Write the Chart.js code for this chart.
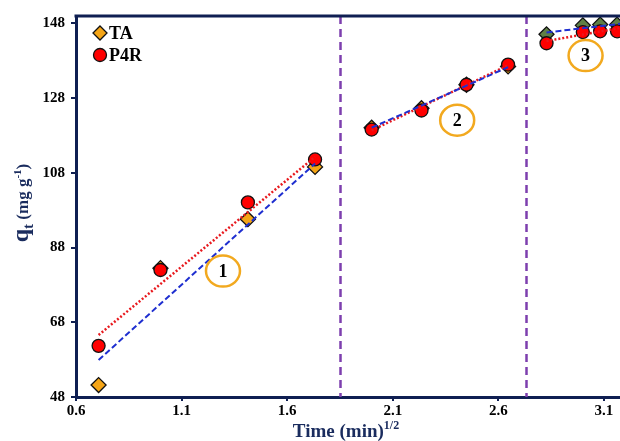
<!DOCTYPE html>
<html>
<head>
<meta charset="utf-8">
<script src="https://cdn.jsdelivr.net/npm/chart.js@4.4.1/dist/chart.umd.min.js"></script>
<style>
  html, body { margin: 0; padding: 0; background: #fff; }
  #wrap { width: 620px; height: 441px; }
</style>
</head>
<body>
<div id="wrap"><canvas id="kineticsChart" width="620" height="441"></canvas></div>
<script>
// square root of contact time, min^1/2
var timeRoot = [0.707, 1.0, 1.414, 1.732, 2.0, 2.236, 2.449, 2.646, 2.828, 3.0, 3.082, 3.162];
var qtTA = [51.2, 82.5, 95.6, 109.6, 120.1, 125.3, 131.6, 136.5, 145.1, 147.5, 147.7, 147.7];
var qtP4R = [61.7, 82.0, 100.1, 111.6, 119.6, 124.7, 131.6, 137.0, 142.7, 145.7, 145.9, 145.9];

// fitted lines per stage: start/end x and y
var stageX = [[0.707, 1.732], [2.0, 2.646], [2.828, 3.176]];
var fitTA = [[57.9, 110.5], [120.1, 136.3], [145.6, 147.9]];
var fitP4R = [[64.6, 112.3], [119.4, 136.8], [143.3, 146.8]];

var stageBreaks = [1.851, 2.733];
var stageLabels = ['1', '2', '3'];
var stageLabelX = [1.296, 2.405, 3.013];
var stageLabelY = [81.7, 122.1, 139.4];

var xTicks = [0.6, 1.1, 1.6, 2.1, 2.6, 3.1];
var yTicks = [48, 68, 88, 108, 128, 148];

var navy = '#0f1f52';
var titleNavy = '#1a2c5e';
var serif = '"Liberation Serif", "Times New Roman", serif';
var orange = '#f5a516';
var olive = '#5f7f45';
var purple = '#7d3fae';
var ringColor = '#f2a91f';

function toPoints(xs, ys) {
    return xs.map(function (x, i) { return { x: x, y: ys[i] }; });
}

var datasets = [];

// fitted lines, drawn above the markers
stageX.forEach(function (xs, i) {
    datasets.push({
        label: 'TA fit ' + (i + 1),
        data: toPoints(xs, fitTA[i]),
        showLine: true,
        borderColor: '#1f2fd0',
        borderWidth: 2,
        borderDash: [6, 3],
        pointRadius: 0,
        order: 0
    });
    datasets.push({
        label: 'P4R fit ' + (i + 1),
        data: toPoints(xs, fitP4R[i]),
        showLine: true,
        borderColor: '#e8191e',
        borderWidth: 2.5,
        borderDash: [2, 2],
        pointRadius: 0,
        order: 0
    });
});

datasets.push({
    label: 'P4R',
    data: toPoints(timeRoot, qtP4R),
    pointStyle: 'circle',
    pointRadius: 6.5,
    backgroundColor: '#ff0000',
    borderColor: '#111',
    borderWidth: 1.3,
    order: 1
});

datasets.push({
    label: 'TA',
    data: toPoints(timeRoot, qtTA),
    pointStyle: 'rectRot',
    pointRadius: 7.5,
    backgroundColor: timeRoot.map(function (x) { return x > stageBreaks[1] ? olive : orange; }),
    borderColor: '#111',
    borderWidth: 1.3,
    order: 2
});

// stage dividers, ringed numbers, top frame, legend and axis titles
var decorations = {
    id: 'decorations',
    beforeDatasetsDraw: function (chart) {
        var ctx = chart.ctx, area = chart.chartArea, xs = chart.scales.x;
        ctx.save();
        ctx.strokeStyle = purple;
        ctx.lineWidth = 2.5;
        ctx.setLineDash([8, 5]);
        stageBreaks.forEach(function (v) {
            var px = Math.round(xs.getPixelForValue(v)) + 0.5;
            ctx.beginPath();
            ctx.moveTo(px, area.top);
            ctx.lineTo(px, area.bottom);
            ctx.stroke();
        });
        ctx.restore();
    },
    afterDatasetsDraw: function (chart) {
        var ctx = chart.ctx, area = chart.chartArea;
        var xs = chart.scales.x, ys = chart.scales.y;
        ctx.save();
        stageLabels.forEach(function (t, i) {
            var px = xs.getPixelForValue(stageLabelX[i]);
            var py = ys.getPixelForValue(stageLabelY[i]);
            ctx.beginPath();
            ctx.ellipse(px, py, 17, 15.5, 0, 0, Math.PI * 2);
            ctx.strokeStyle = ringColor;
            ctx.lineWidth = 2.5;
            ctx.stroke();
            ctx.fillStyle = '#000';
            ctx.font = 'bold 18px ' + serif;
            ctx.textAlign = 'center';
            ctx.textBaseline = 'middle';
            ctx.fillText(t, px, py + 1);
        });

        // top frame line
        ctx.strokeStyle = navy;
        ctx.lineWidth = 3;
        ctx.beginPath();
        ctx.moveTo(area.left - 1.5, area.top);
        ctx.lineTo(area.right, area.top);
        ctx.stroke();
        ctx.restore();
    },
    afterDraw: function (chart) {
        var ctx = chart.ctx;
        ctx.save();

        // legend
        ctx.lineWidth = 1.3;
        ctx.strokeStyle = '#111';
        ctx.fillStyle = orange;
        ctx.beginPath();
        ctx.moveTo(100, 26); ctx.lineTo(107, 33); ctx.lineTo(100, 40); ctx.lineTo(93, 33);
        ctx.closePath();
        ctx.fill(); ctx.stroke();
        ctx.fillStyle = '#ff0000';
        ctx.beginPath();
        ctx.arc(100, 55, 6.5, 0, Math.PI * 2);
        ctx.fill(); ctx.stroke();
        ctx.fillStyle = '#000';
        ctx.font = 'bold 18px ' + serif;
        ctx.textAlign = 'left';
        ctx.textBaseline = 'middle';
        ctx.fillText('TA', 109, 34);
        ctx.fillText('P4R', 109, 56);

        ctx.fillStyle = titleNavy;
        ctx.textBaseline = 'alphabetic';

        // x title: Time (min)^1/2
        var xParts = [
            { t: 'Time (min)', size: 19, dy: 0 },
            { t: '1/2', size: 12, dy: -8 }
        ];
        drawRun(ctx, xParts, 346, 437);

        // y title: q_t (mg g^-1), rotated
        ctx.translate(28, 203);
        ctx.rotate(-Math.PI / 2);
        var yParts = [
            { t: 'q', size: 24, dy: 0 },
            { t: 't', size: 15, dy: 5 },
            { t: ' (mg g', size: 17, dy: 0 },
            { t: '-1', size: 11, dy: -7 },
            { t: ')', size: 17, dy: 0 }
        ];
        drawRun(ctx, yParts, 0, 0);
        ctx.restore();
    }
};

function drawRun(ctx, parts, cx, baseY) {
    var total = 0;
    parts.forEach(function (p) {
        ctx.font = 'bold ' + p.size + 'px ' + serif;
        p.w = ctx.measureText(p.t).width;
        total += p.w;
    });
    var x = cx - total / 2;
    ctx.textAlign = 'left';
    parts.forEach(function (p) {
        ctx.font = 'bold ' + p.size + 'px ' + serif;
        ctx.fillText(p.t, x, baseY + p.dy);
        x += p.w;
    });
}

var ctx = document.getElementById('kineticsChart').getContext('2d');
var kineticsChart = new Chart(ctx, {
    type: 'scatter',
    data: { datasets: datasets },
    options: {
        responsive: false,
        animation: false,
        layout: { autoPadding: false, padding: { top: 16, right: 0, left: 0, bottom: 0 } },
        plugins: {
            legend: { display: false },
            tooltip: { enabled: false }
        },
        scales: {
            x: {
                type: 'linear',
                min: 0.6,
                max: 3.176,
                afterBuildTicks: function (scale) {
                    scale.ticks = xTicks.map(function (v) { return { value: v }; });
                },
                afterFit: function (scale) { scale.height = 44; },
                border: { color: navy, width: 3 },
                grid: { drawOnChartArea: false, color: navy, lineWidth: 2, tickLength: 4 },
                ticks: {
                    color: '#000',
                    padding: 1,
                    maxRotation: 0,
                    font: { family: serif, size: 15, weight: 'bold' },
                    callback: function (v) { return v.toFixed(1); }
                }
            },
            y: {
                min: 48,
                max: 150,
                afterBuildTicks: function (scale) {
                    scale.ticks = yTicks.map(function (v) { return { value: v }; });
                },
                afterFit: function (scale) { scale.width = 76; },
                border: { color: navy, width: 3 },
                grid: { drawOnChartArea: false, color: navy, lineWidth: 2, tickLength: 5 },
                ticks: {
                    color: '#000',
                    padding: 6,
                    font: { family: serif, size: 15, weight: 'bold' },
                    callback: function (v) { return String(v); }
                }
            }
        }
    },
    plugins: [decorations]
});
</script>
</body>
</html>
